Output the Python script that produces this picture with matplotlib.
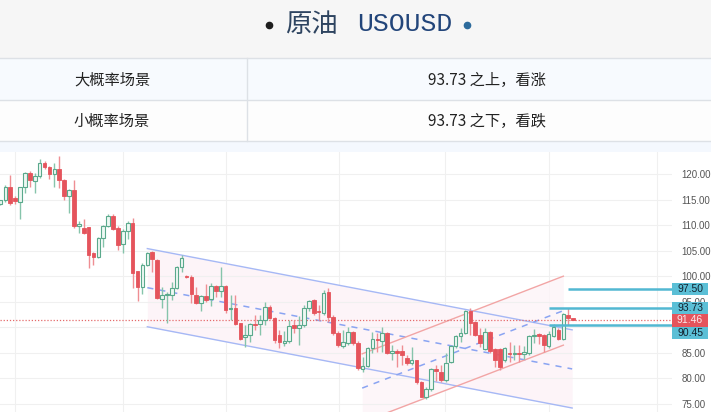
import matplotlib
matplotlib.use('Agg')
import matplotlib.pyplot as plt
import matplotlib.transforms as mtransforms
from matplotlib.patches import Rectangle

plt.rcParams['font.family'] = ['Noto Sans CJK SC', 'DejaVu Sans']

# header / table text
title_name = '原油'
title_code = 'USOUSD'
row_labels = ['大概率场景', '小概率场景']
row_texts = ['93.73 之上，看涨', '93.73 之下，看跌']

# daily candles, oldest first
opens = [114.1, 114.9, 117.5, 115.3, 114.6, 117.4, 120.1, 118.7, 119.7, 122.2,
         121.3, 120.0, 120.9, 118.8, 115.7, 116.9, 109.9, 109.4, 109.6, 104.5,
         103.8, 107.4, 109.8, 111.8, 109.4, 106.3, 108.9, 110.4, 101.1, 97.9,
         102.2, 104.8, 103.2, 95.5, 96.3, 96.3, 97.6, 101.8, 100.1, 99.9,
         96.3, 94.8, 96.1, 95.5, 98.1, 97.1, 98.1, 93.5, 93.7, 90.8,
         88.0, 88.5, 90.6, 90.6, 91.4, 93.9, 91.8, 88.5, 87.0, 87.4,
         90.5, 89.8, 90.5, 93.7, 95.3, 93.2, 92.7, 97.0, 92.1, 88.8,
         86.3, 87.0, 89.0, 87.0, 81.8, 82.4, 85.9, 87.8, 87.4, 88.8,
         84.9, 85.4, 85.3, 83.9, 83.1, 83.6, 79.2, 76.3, 77.9, 81.8,
         81.3, 79.6, 83.3, 86.4, 88.2, 88.8, 93.1, 91.1, 88.5, 85.7,
         89.0, 85.7, 85.7, 83.5, 85.0, 84.8, 85.0, 84.8, 84.9, 88.3,
         88.6, 88.5, 86.3, 88.2, 89.5, 87.7, 92.4, 91.8]
highs = [115.0, 117.9, 119.8, 115.6, 117.5, 120.3, 120.6, 120.1, 122.9, 122.6,
         121.5, 122.1, 123.6, 119.0, 117.1, 118.8, 110.8, 111.2, 109.6, 104.8,
         107.6, 110.1, 112.2, 112.2, 109.8, 109.2, 110.7, 111.4, 101.1, 102.5,
         104.8, 105.0, 103.4, 97.9, 97.0, 98.9, 102.0, 104.2, 100.3, 100.2,
         97.8, 96.4, 98.4, 98.6, 98.2, 101.7, 98.3, 96.3, 96.3, 90.9,
         90.5, 90.8, 92.4, 92.4, 95.0, 94.4, 92.1, 89.5, 89.3, 91.4,
         91.4, 92.2, 94.4, 95.3, 95.6, 94.4, 97.3, 97.7, 92.5, 89.3,
         89.5, 90.1, 89.3, 87.3, 84.2, 86.2, 89.1, 88.9, 90.1, 89.0,
         86.5, 85.8, 86.5, 84.6, 86.2, 83.6, 79.5, 78.3, 82.0, 82.6,
         82.6, 84.9, 86.6, 88.4, 89.8, 93.3, 93.7, 91.3, 89.8, 89.8,
         89.2, 86.0, 86.0, 86.2, 87.2, 86.5, 86.5, 86.3, 88.5, 89.6,
         88.9, 88.7, 89.2, 90.6, 89.8, 92.8, 93.7, 91.9]
lows = [113.9, 114.5, 113.9, 114.1, 111.2, 116.3, 117.5, 116.3, 119.2, 121.0,
        119.0, 117.4, 117.2, 115.0, 112.4, 109.4, 108.5, 108.2, 101.6, 102.2,
        103.6, 105.7, 109.6, 109.0, 105.1, 104.6, 107.3, 97.6, 95.2, 96.6,
        102.0, 100.9, 95.5, 93.7, 90.8, 95.3, 97.4, 100.9, 99.7, 94.8,
        94.6, 93.1, 94.9, 94.2, 96.0, 96.0, 92.7, 91.4, 90.4, 87.5,
        86.2, 87.2, 89.5, 88.5, 90.5, 91.6, 86.9, 86.0, 86.3, 87.0,
        88.8, 86.6, 90.0, 93.1, 92.4, 91.5, 92.4, 91.0, 88.5, 86.2,
        86.0, 86.6, 86.6, 81.6, 81.3, 82.2, 84.9, 85.2, 85.2, 84.8,
        83.6, 82.3, 82.6, 82.7, 82.6, 78.9, 76.3, 75.9, 77.6, 79.4,
        79.3, 79.3, 83.0, 85.9, 87.2, 88.6, 88.5, 88.2, 86.2, 85.5,
        85.0, 82.2, 81.6, 83.3, 83.3, 83.6, 83.2, 83.7, 84.5, 87.0,
        86.8, 85.2, 86.0, 88.0, 87.5, 87.5, 90.5, 91.4]
closes = [114.9, 117.5, 114.3, 114.7, 117.4, 120.1, 118.8, 119.7, 122.2, 121.3,
          120.0, 120.9, 118.8, 115.6, 116.9, 109.8, 110.2, 108.5, 104.2, 103.8,
          107.4, 109.8, 111.8, 109.2, 106.1, 108.9, 110.5, 100.7, 97.8, 102.2,
          104.6, 103.3, 95.7, 96.3, 96.5, 97.6, 101.8, 103.5, 99.9, 96.5,
          94.8, 96.1, 95.3, 98.1, 97.1, 98.1, 93.3, 93.7, 90.6, 87.8,
          88.5, 90.6, 90.4, 91.4, 93.9, 91.8, 87.5, 87.2, 87.4, 90.3,
          89.8, 90.5, 93.7, 95.2, 92.7, 93.0, 96.8, 92.1, 88.8, 86.5,
          87.2, 89.0, 86.9, 82.0, 82.4, 85.9, 87.7, 87.5, 88.9, 84.9,
          85.4, 84.9, 84.6, 83.1, 83.6, 79.2, 76.3, 77.9, 81.8, 81.5,
          79.6, 83.1, 86.4, 88.2, 88.8, 93.1, 90.8, 88.5, 86.9, 89.0,
          85.4, 83.5, 82.2, 85.9, 84.8, 85.0, 84.8, 85.1, 88.2, 88.5,
          88.3, 86.5, 88.6, 90.1, 87.7, 92.6, 91.8, 91.46]

yticks = [75, 80, 85, 90, 95, 100, 105, 110, 115, 120]
vgrid = [3.0, 25.0, 46.0, 69.2, 90.9, 112.1, 134.2]

# drawn levels and where each one starts (candle index)
levels = [97.50, 93.73, 90.45]
level_start = [116.0, 112.1, 112.1]
last_price = 91.46

# falling channel (blue) and rising channel (red): [start, end]
blue_x = [30.0, 116.8]
blue_upper = [105.4, 89.5]
blue_lower = [90.1, 74.2]
red_x = [73.9, 115.0]
red_upper = [84.8, 100.0]
red_lower = [71.4, 86.5]

W, H = 711, 412
fig = plt.figure(figsize=(W / 100, H / 100), dpi=100)

# ---- header + table, drawn in pixel coords
bg = fig.add_axes([0, 0, 1, 1])
bg.set_xlim(0, W)
bg.set_ylim(H, 0)
bg.axis('off')
bg.add_patch(Rectangle((0, 0), W, 58, color='#f6f6f6', lw=0))
bg.add_patch(Rectangle((0, 58), W, 42, color='#f7fafe', lw=0))
bg.add_patch(Rectangle((0, 100), W, 41, color='#fdfdfd', lw=0))
bg.add_patch(Rectangle((0, 141), W, 11, color='#f4f8fe', lw=0))
for yy in [58, 100, 141]:
    bg.plot([0, W], [yy, yy], color='#dde1e6', lw=1)
bg.plot([247, 247], [58, 141], color='#dde1e6', lw=1)

bg.plot([269], [25], 'o', ms=4.5, color='#1e1e1e')
bg.plot([467], [25], 'o', ms=4.5, color='#2d6b9c')
bg.text(311, 24, title_name, ha='center', va='center', fontsize=19, color='#2e4460')
bg.text(405, 24, title_code, ha='center', va='center', fontsize=19,
        family='Liberation Mono', color='#22457a')
for k, yy in enumerate([80, 121]):
    bg.text(112, yy, row_labels[k], ha='center', va='center', fontsize=11, color='#222222')
    bg.text(487, yy, row_texts[k], ha='center', va='center', fontsize=11, color='#222222')

# ---- candle chart
ax = fig.add_axes([0, 0, 672 / W, 260 / H])
ax.set_facecolor('white')
ax.set_xlim(-0.1, 137.2)
ax.set_ylim(73.42, 124.3)
for s in ax.spines.values():
    s.set_visible(False)
ax.set_xticks([])
ax.set_yticks(yticks)
# 90.00 sits fully under the price tags, as in the source
ax.set_yticklabels(['' if v == 90 else '%.2f' % v for v in yticks])
ax.yaxis.tick_right()
ax.tick_params(axis='y', length=0, pad=7, labelsize=7, labelcolor='#555555')
for lab in ax.get_yticklabels():
    lab.set_family('Liberation Sans')
ax.grid(axis='y', color='#f0f0f0', lw=0.8)
for g in vgrid:
    ax.axvline(g, color='#f0f0f0', lw=0.8, zorder=0)

# channels
ax.fill_between(blue_x, blue_lower, blue_upper, color='#fdf4f8', lw=0, zorder=0.5)
ax.fill_between(red_x, red_lower, red_upper, color='#fdf4f8', alpha=0.8, lw=0, zorder=0.6)
ax.plot(blue_x, blue_upper, color='#a6b8f5', lw=1.0, zorder=2)
ax.plot(blue_x, blue_lower, color='#a6b8f5', lw=1.0, zorder=2)
ax.plot(blue_x, [(a + b) / 2 for a, b in zip(blue_upper, blue_lower)],
        color='#8aa4f2', lw=1.1, dashes=(4, 4), zorder=2)
ax.plot(red_x, red_upper, color='#f2a5a5', lw=1.0, zorder=2)
ax.plot(red_x, red_lower, color='#f2a5a5', lw=1.0, zorder=2)
ax.plot(red_x, [(a + b) / 2 for a, b in zip(red_upper, red_lower)],
        color='#8aa4f2', lw=1.1, dashes=(4, 4), zorder=2)

# candles
for i in range(len(opens)):
    o, h, l, c = opens[i], highs[i], lows[i], closes[i]
    up = c >= o
    wick = '#86c4ab' if up else '#ef8e93'
    ax.vlines(i, l, h, color=wick, lw=1.0, zorder=3)
    bottom = min(o, c)
    height = max(abs(c - o), 0.15)
    if up:
        ax.bar(i, height, 0.74, bottom, facecolor='#eef8f3', edgecolor='#5aa98c', lw=0.8, zorder=4)
    else:
        ax.bar(i, height, 0.74, bottom, facecolor='#e5545c', edgecolor='#e5545c', lw=0.6, zorder=4)

# last price + levels
ax.axhline(last_price, color='#e46a6a', lw=0.9, ls=(0, (1, 1.5)), zorder=2.5)
for lv, st in zip(levels, level_start):
    ax.hlines(lv, st, 137.2, color='#52b8d2', lw=1.8, zorder=5)

# price tags on the right axis, pushed down when they would overlap
tags = [(97.50, '#5bbfd6', '#13222e'), (93.73, '#5bbfd6', '#13222e'),
        (last_price, '#e5545c', '#fbe9ea'), (90.45, '#5bbfd6', '#13222e')]
trans = mtransforms.blended_transform_factory(ax.transAxes, ax.transData)
prev = None
for val, fc, tc in tags:
    yy = val if prev is None else min(val, prev - 2.4)
    prev = yy
    ax.add_patch(Rectangle((1.0, yy - 1.2), 0.0536, 2.4, transform=trans,
                           facecolor=fc, edgecolor='none', clip_on=False, zorder=6))
    ax.text(1.0268, yy, '%.2f' % val, transform=trans, ha='center', va='center',
            fontsize=7.5, color=tc, family='Liberation Sans', clip_on=False, zorder=7)

fig.savefig('out.png', dpi=100)
